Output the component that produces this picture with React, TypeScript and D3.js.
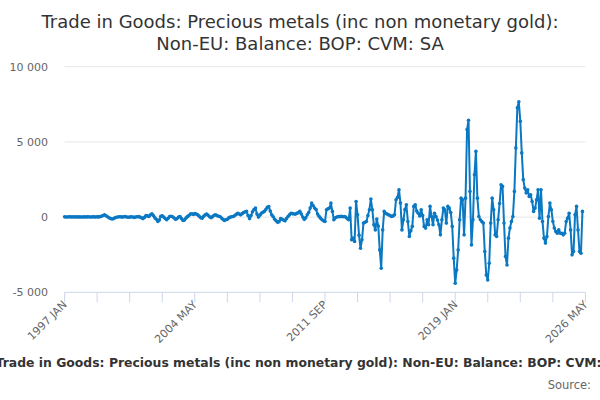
// ONS time series: precious metals trade balance, monthly
import React from 'react';
import * as d3 from 'd3';

const MONTHS = ['JAN', 'FEB', 'MAR', 'APR', 'MAY', 'JUN', 'JUL', 'AUG', 'SEP', 'OCT', 'NOV', 'DEC'];

// 1997 JAN .. 2026 MAY (axis categories)
const categories: string[] = d3.range(353).map(i => `${1997 + Math.floor(i / 12)} ${MONTHS[i % 12]}`);

const labelled = ['1997 JAN', '2004 MAY', '2011 SEP', '2019 JAN', '2026 MAY'];

const yTicks = [-5000, 0, 5000, 10000];

// £ million, one row per year
const balance: number[] = [
  15, 10, 5, 20, 12, 8, 18, 10, 14, 6, 12, 9,
  11, 16, 8, 13, 20, 10, 7, 15, 12, 9, 18, 14,
  30, 60, 110, 150, 90, 20, -40, -90, -130, -110, -50, -10,
  10, 20, 15, 0, 20, 30, 10, -10, 0, 20, 10, -20,
  0, 20, 30, 0, -50, -100, -20, 100, 80, 40, 150, 220,
  100, -50, -150, -290, -200, 60, 90, 0, -100, -170, -80, 40,
  50, 20, -60, -150, -100, 0, 40, -100, -220, -200, -70, 30,
  100, 200, 220, 180, 230, 200, 150, 60, -40, -70, 50, 150,
  200, 120, 20, -40, 30, 120, 150, 100, 60, 40, -60, -150,
  -220, -180, -150, -50, 0, 20, 40, 100, 180, 260, 200, 150,
  230, 300, 350, 380, 100, -100, 100, 350, 500, 600, 200, 0,
  120, 260, 320, 380, 500, 650, 700, 400, 150, 20, -150, -250,
  -350, -300, -100, -150, -200, -250, -100, 40, 150, 260, 230, 210,
  200, 250, 300, 380, 200, 0, -150, -50, 150, 300, 600, 930,
  750, 600, 500, 200, 50, -70, -180, -250, -290, 490, 550, 600,
  930, 380, -180, -50, 0, 40, 30, 50, 20, 40, 0, -100,
  -180, 600, -1510, -1400, -1620, 1040, 150, -1200, -2070, -1510, -400, -350,
  -290, 100, 490, 1200, 490, -510, -850, -130, -600, -2180, -3400, -850,
  380, 250, 200, 150, 100, 40, 80, 150, 1150, 1300, 1820, 930,
  -850, -180, 500, 820, -290, -1290, -900, -620, 710, 820, 400, 260,
  80, 490, 100, -620, -730, -180, -510, 710, 40, -510, 260, 40,
  -200, -510, -1180, -180, 600, 490, -400, 710, 600, 300, -620, -2730,
  -4400, -3510, -2180, -180, 1260, 1150, -1180, 1260, 5820, 6440, 1710, -1850,
  -180, 2820, 4370, 1260, 40, -180, -300, -400, -2290, -3850, -4180, -3070,
  -400, 1260, 490, -1180, -1290, -180, 900, 2150, 2040, -400, -2620, -3180,
  -1400, -730, -290, 40, 1710, 4600, 7270, 7670, 6370, 4270, 2490, 1930,
  1600, 1820, 1370, 1490, 1040, 380, 600, 1150, 1820, -70, 1820, -290,
  -1400, -1730, -1290, 40, 930, 490, -290, -730, -960, -1070, -850, -1070,
  -1070, -1180, -1070, -290, -70, 260, -850, -2510, -2290, 150, 710, -850,
  -2290, -2400, 380,
];

const title1 = 'Trade in Goods: Precious metals (inc non monetary gold):';
const title2 = 'Non-EU: Balance: BOP: CVM: SA';
const caption = 'Trade in Goods: Precious metals (inc non monetary gold): Non-EU: Balance: BOP: CVM: SA';

const width = 600;
const height = 400;
const left = 64.6;
const right = 585.4;
const top = 66.7;
const bottom = 292.3;
const blue = '#0a78c2';
const font = '"DejaVu Sans", sans-serif';

const App: React.FC = () => {
  const x = d3.scalePoint<string>().domain(categories).range([left, right]);
  const y = d3.scaleLinear().domain([-5000, 10000]).range([bottom, top]);

  const points = balance.map((v, i) => ({ cat: categories[i], v }));
  const line = d3.line<{ cat: string; v: number }>()
    .x(d => x(d.cat) as number)
    .y(d => y(d.v));

  const minorTicks = categories.filter((_, i) => i % 22 === 0);
  const fmt = (v: number) => d3.format(',')(v).replace(/,/g, ' ').replace('−', '-');

  return (
    <div style={{ position: 'absolute', left: 0, top: 0 }}>
      <svg width={width} height={height} style={{ display: 'block', fontFamily: font }}>
        <rect width={width} height={height} fill="#fff" />
        <text x={300} y={28} textAnchor="middle" fontSize={18} fill="#333">{title1}</text>
        <text x={300} y={50} textAnchor="middle" fontSize={18} fill="#333">{title2}</text>

        {yTicks.map(t => (
          <g key={t}>
            {t > -5000 && <line x1={left} x2={right} y1={y(t)} y2={y(t)} stroke="#e6e6e6" />}
            <text x={48} y={y(t) + 4} textAnchor="end" fontSize={11} fill="#666">{fmt(t)}</text>
          </g>
        ))}

        <line x1={left} x2={right} y1={bottom} y2={bottom} stroke="#ccd6eb" />
        {minorTicks.map(c => (
          <line key={c} x1={x(c)} x2={x(c)} y1={bottom} y2={bottom + 10} stroke="#ccd6eb" />
        ))}
        {labelled.map(c => (
          <text key={c} transform={`translate(${(x(c) as number) + 3},${bottom + 13}) rotate(-45)`}
            textAnchor="end" fontSize={11} fill="#666">{c}</text>
        ))}

        <path d={line(points) || ''} fill="none" stroke={blue} strokeWidth={2} strokeLinejoin="round" />
        {points.map(p => (
          <circle key={p.cat} cx={x(p.cat)} cy={y(p.v)} r={1.8} fill={blue} />
        ))}

        <text x={310} y={367} textAnchor="middle" fontSize={12.4} fontWeight="bold" fill="#333">{caption}</text>
        <text x={591} y={389} textAnchor="end" fontSize={11.5} fill="#666">Source:</text>
      </svg>
    </div>
  );
};

export default App;
